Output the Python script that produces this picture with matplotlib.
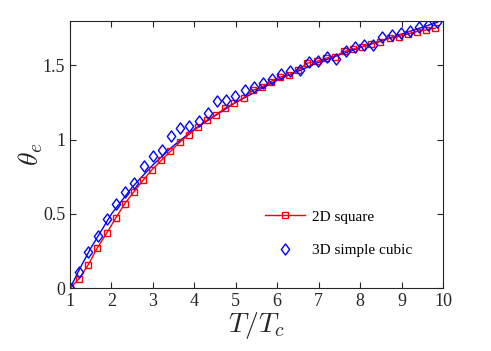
import numpy as np
import matplotlib
matplotlib.use('Agg')
import matplotlib.pyplot as plt
from matplotlib.path import Path

plt.rcParams['font.family'] = ['Liberation Serif', 'DejaVu Serif']
plt.rcParams['mathtext.fontset'] = 'cm'

# 2D square lattice: T/Tc = 1 + k*0.5/2.269
t_sq = 1 + np.arange(41) * 0.5 / 2.269
theta_sq = [0.0, 0.065, 0.159, 0.273, 0.369, 0.472, 0.570, 0.649, 0.727, 0.799,
            0.860, 0.921, 0.982, 1.034, 1.083, 1.130, 1.168, 1.213, 1.246, 1.280,
            1.331, 1.354, 1.391, 1.421, 1.436, 1.470, 1.515, 1.526, 1.548, 1.559,
            1.593, 1.608, 1.626, 1.644, 1.660, 1.682, 1.693, 1.711, 1.727, 1.738,
            1.750]

# 3D simple cubic: T/Tc = 1 + k*1.0/4.5115
t_sc = 1 + np.arange(41) * 1.0 / 4.5115
theta_sc = [0.0, 0.109, 0.244, 0.351, 0.463, 0.564, 0.646, 0.709, 0.821, 0.893,
            0.928, 1.022, 1.078, 1.089, 1.123, 1.179, 1.257, 1.268, 1.291, 1.331,
            1.354, 1.380, 1.407, 1.443, 1.465, 1.470, 1.519, 1.532, 1.555, 1.541,
            1.593, 1.626, 1.638, 1.638, 1.689, 1.705, 1.716, 1.734, 1.760, 1.772,
            1.794]

# blue guide curve
t_fit = [1.0, 1.25, 1.5, 2.0, 2.5, 3.0, 3.5, 4.0, 4.5, 5.0, 6.0, 7.0, 8.0, 9.0, 9.87]
theta_fit = [0.0, 0.14, 0.27, 0.50, 0.68, 0.83, 0.96, 1.07, 1.16, 1.25, 1.40,
             1.52, 1.62, 1.71, 1.79]

# MATLAB-like diamond (a bit taller than wide)
diamond = Path([(0, 1), (0.75, 0), (0, -1), (-0.75, 0), (0, 1)],
               [Path.MOVETO, Path.LINETO, Path.LINETO, Path.LINETO, Path.CLOSEPOLY])

fig = plt.figure(figsize=(4.91, 3.51), dpi=100)
ax = fig.add_axes([0.1426, 0.1786, 0.7596, 0.7624])

ax.plot(t_fit, theta_fit, '-', color='b', lw=1.0)
ax.plot(t_sq, theta_sq, '-s', color='r', lw=1.0, ms=5, mfc='none', mew=1.0,
        label='2D square')
ax.plot(t_sc, theta_sc, marker=diamond, color='b', ls='none', ms=8, mfc='none',
        mew=1.0, label='3D simple cubic')

ax.set_xlim(1, 10)
ax.set_ylim(0, 1.8)
ax.set_xticks(range(1, 11))
ax.set_yticks([0, 0.5, 1, 1.5])
ax.set_yticklabels(['0', '0.5', '1', '1.5'])
ax.tick_params(direction='in', top=True, right=True, labelsize=13,
               colors='0.15', length=4, width=0.8)
for tl in ax.get_xticklabels() + ax.get_yticklabels():
    tl.set_color('0.15')
for s in ax.spines.values():
    s.set_color('0.15')
    s.set_linewidth(0.8)

ax.set_xlabel(r'$T/T_c$', fontsize=20, color='0.15', labelpad=0)
ax.set_ylabel(r'$\theta_e$', fontsize=20, color='0.15', labelpad=-2)

ax.legend(loc='lower right', bbox_to_anchor=(0.955, 0.065), frameon=False,
          fontsize=11, labelspacing=1.3, handlelength=2.6, handletextpad=0.5)

fig.savefig('out.png', dpi=100)
